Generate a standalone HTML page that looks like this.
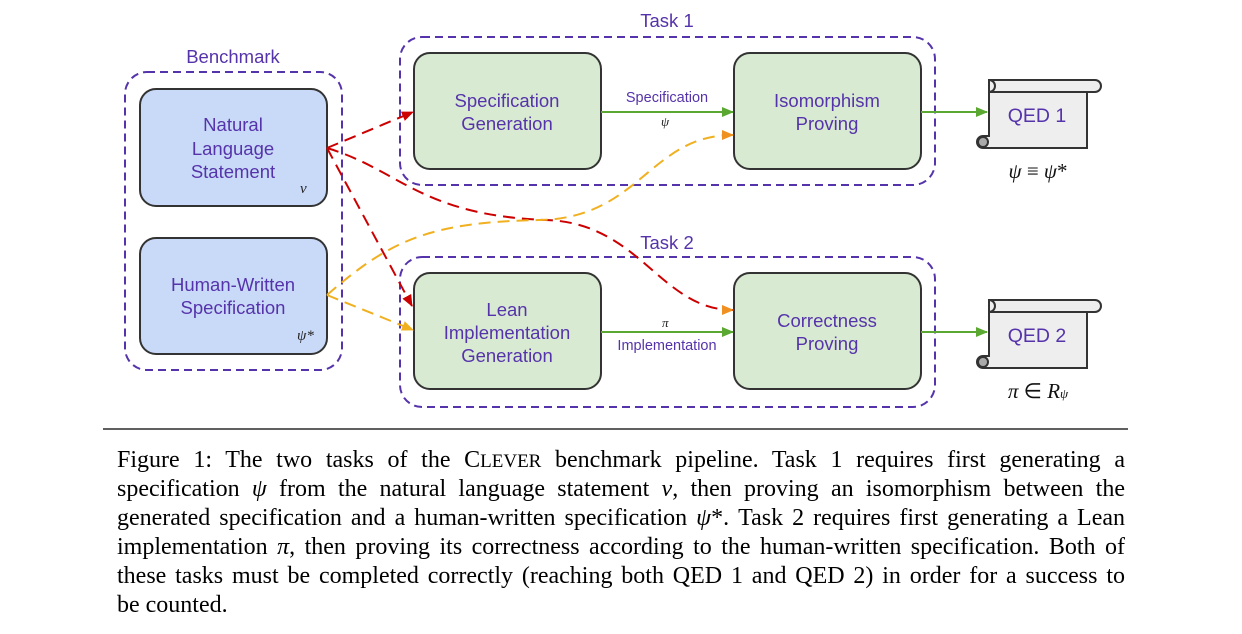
<!DOCTYPE html>
<html><head><meta charset="utf-8"><style>
body{margin:0;background:#fff;width:1242px;height:634px;overflow:hidden;position:relative}
svg{position:absolute;left:0;top:0}
.cap{position:absolute;left:117px;width:1008px;font-family:"Liberation Serif",serif;font-size:24px;color:#000;line-height:29px;top:446px}
.cap div{text-align:justify;text-align-last:justify;white-space:nowrap;height:29px}
.cap div.last{text-align-last:left}
.sc{font-size:19px}
i{font-style:italic}
</style></head><body>
<svg width="1242" height="634" viewBox="0 0 1242 634" font-family="Liberation Sans, sans-serif">
<defs>
<marker id="g" markerWidth="12" markerHeight="10" refX="11" refY="5" orient="auto" markerUnits="userSpaceOnUse"><path d="M0,0 L12,5 L0,10z" fill="#5aa832"/></marker>
<marker id="r" markerWidth="12" markerHeight="10" refX="11" refY="5" orient="auto" markerUnits="userSpaceOnUse"><path d="M0,0 L12,5 L0,10z" fill="#cc0000"/></marker>
<marker id="o" markerWidth="12" markerHeight="10" refX="11" refY="5" orient="auto" markerUnits="userSpaceOnUse"><path d="M0,0 L12,5 L0,10z" fill="#f0b020"/></marker>
<marker id="or" markerWidth="12" markerHeight="10" refX="11" refY="5" orient="auto" markerUnits="userSpaceOnUse"><path d="M0,0 L12,5 L0,10z" fill="#f09020"/></marker>
</defs>
<g fill="none" stroke="#5533aa" stroke-width="2" stroke-dasharray="8,5">
<rect x="125" y="72" width="217" height="298" rx="22"/>
<rect x="400" y="37" width="535" height="148" rx="22"/>
<rect x="400" y="257" width="535" height="150" rx="22"/>
</g>
<g fill="#5533aa" font-size="18.5" text-anchor="middle">
<text x="233" y="63">Benchmark</text>
<text x="667" y="27">Task 1</text>
<text x="667" y="249">Task 2</text>
</g>
<g stroke="#333" stroke-width="2">
<rect x="140" y="89" width="187" height="117" rx="16" fill="#c9daf8"/>
<rect x="140" y="238" width="187" height="116" rx="16" fill="#c9daf8"/>
<rect x="414" y="53" width="187" height="116" rx="16" fill="#d9ead3"/>
<rect x="734" y="53" width="187" height="116" rx="16" fill="#d9ead3"/>
<rect x="414" y="273" width="187" height="116" rx="16" fill="#d9ead3"/>
<rect x="734" y="273" width="187" height="116" rx="16" fill="#d9ead3"/>
</g>
<g fill="#5533aa" font-size="18.5" text-anchor="middle">
<text x="233" y="131">Natural</text><text x="233" y="155">Language</text><text x="233" y="178">Statement</text>
<text x="233" y="291">Human-Written</text><text x="233" y="314">Specification</text>
<text x="507" y="107">Specification</text><text x="507" y="130">Generation</text>
<text x="827" y="107">Isomorphism</text><text x="827" y="130">Proving</text>
<text x="507" y="316">Lean</text><text x="507" y="339">Implementation</text><text x="507" y="362">Generation</text>
<text x="827" y="327">Correctness</text><text x="827" y="350">Proving</text>
<text font-size="14.5" x="667" y="102">Specification</text>
<text font-size="14.5" x="667" y="350">Implementation</text>
</g>
<g font-family="Liberation Serif, serif" font-style="italic" font-size="15" fill="#222">
<text x="300" y="193">ν</text><text x="297" y="340">ψ*</text>
<text x="661" y="126" font-size="13">ψ</text><text x="662" y="327" font-size="13">π</text>
</g>
<g stroke="#5aa832" stroke-width="2" fill="none">
<line x1="601" y1="112" x2="733" y2="112" marker-end="url(#g)"/>
<line x1="921" y1="112" x2="987" y2="112" marker-end="url(#g)"/>
<line x1="601" y1="332" x2="733" y2="332" marker-end="url(#g)"/>
<line x1="921" y1="332" x2="987" y2="332" marker-end="url(#g)"/>
</g>
<g stroke="#333" stroke-width="2" fill="#eee">
<path d="M989,80 h106 a6,6 0 0 1 0,12 h-8 v56 h-104 a6,6 0 0 1 0,-12 h6 z"/>
<path d="M989,80 a6,6 0 0 1 0,12 h106" fill="none"/>
<path d="M989,300 h106 a6,6 0 0 1 0,12 h-8 v56 h-104 a6,6 0 0 1 0,-12 h6 z"/>
<path d="M989,300 a6,6 0 0 1 0,12 h106" fill="none"/>
<circle cx="983" cy="142" r="5" fill="#aaa"/><circle cx="983" cy="362" r="5" fill="#aaa"/>
</g>
<g fill="#5533aa" font-size="19.5" text-anchor="middle"><text x="1037" y="122">QED 1</text><text x="1037" y="342">QED 2</text></g>
<g font-family="Liberation Serif, serif" font-size="21" text-anchor="middle" fill="#111">
<text x="1038" y="178"><tspan font-style="italic">ψ</tspan> ≡ <tspan font-style="italic">ψ</tspan>*</text>
<text x="1038" y="398"><tspan font-style="italic">π</tspan> ∈ <tspan font-style="italic">R</tspan><tspan font-size="13" font-style="italic">ψ</tspan></text>
</g>
<g fill="none" stroke-width="2" stroke-dasharray="12,7">
<path d="M327,148 L413,112" stroke="#cc0000" marker-end="url(#r)"/>
<path d="M327,148 L412,306" stroke="#cc0000" marker-end="url(#r)"/>
<path d="M327,148 C400,170 420,215 545,220 C640,222 660,310 733,310" stroke="#cc0000" marker-end="url(#or)"/>
<path d="M327,295 L413,330" stroke="#f0b020" marker-end="url(#o)"/>
<path d="M327,295 C390,240 430,222 540,220 C640,218 650,135 733,135" stroke="#f0b020" marker-end="url(#or)"/>
</g>
<line x1="103" y1="429" x2="1128" y2="429" stroke="#000" stroke-width="1.2"/>
</svg>
<div class="cap">
<div>Figure 1: The two tasks of the C<span class="sc">LEVER</span> benchmark pipeline. Task 1 requires first generating a</div>
<div>specification <i>ψ</i> from the natural language statement <i>ν</i>, then proving an isomorphism between the</div>
<div>generated specification and a human-written specification <i>ψ</i>*. Task 2 requires first generating a Lean</div>
<div>implementation <i>π</i>, then proving its correctness according to the human-written specification. Both of</div>
<div>these tasks must be completed correctly (reaching both QED 1 and QED 2) in order for a success to</div>
<div class="last">be counted.</div>
</div>
</body></html>
